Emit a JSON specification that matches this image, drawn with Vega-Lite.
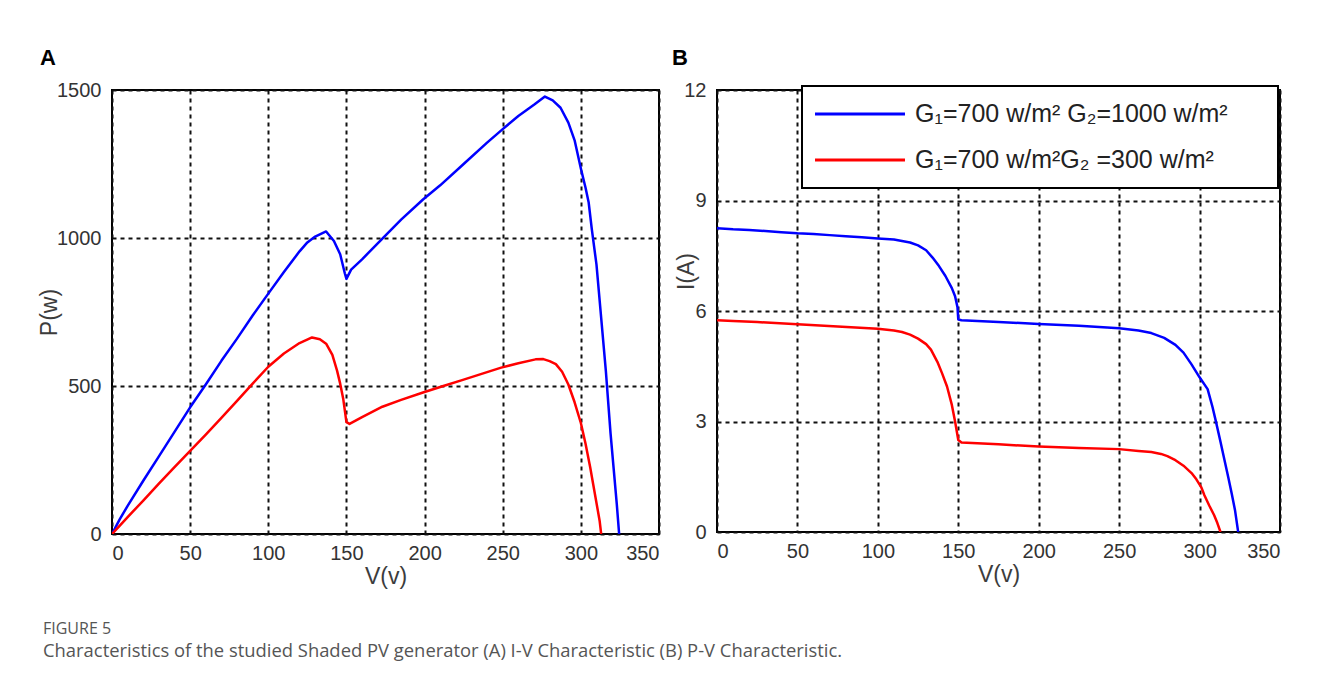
{
  "$schema": "https://vega.github.io/schema/vega-lite/v6.json",
  "background": "white",
  "padding": {"left": 37, "top": 46, "right": 20, "bottom": 5},
  "datasets": {
    "pv": [
      {"V": 0, "P": 0, "s": "G₁=700 w/m² G₂=1000 w/m²"},
      {"V": 5, "P": 50, "s": "G₁=700 w/m² G₂=1000 w/m²"},
      {"V": 10, "P": 95, "s": "G₁=700 w/m² G₂=1000 w/m²"},
      {"V": 20, "P": 180, "s": "G₁=700 w/m² G₂=1000 w/m²"},
      {"V": 30, "P": 262, "s": "G₁=700 w/m² G₂=1000 w/m²"},
      {"V": 40, "P": 345, "s": "G₁=700 w/m² G₂=1000 w/m²"},
      {"V": 50, "P": 428, "s": "G₁=700 w/m² G₂=1000 w/m²"},
      {"V": 60, "P": 505, "s": "G₁=700 w/m² G₂=1000 w/m²"},
      {"V": 70, "P": 585, "s": "G₁=700 w/m² G₂=1000 w/m²"},
      {"V": 80, "P": 660, "s": "G₁=700 w/m² G₂=1000 w/m²"},
      {"V": 90, "P": 738, "s": "G₁=700 w/m² G₂=1000 w/m²"},
      {"V": 100, "P": 812, "s": "G₁=700 w/m² G₂=1000 w/m²"},
      {"V": 110, "P": 885, "s": "G₁=700 w/m² G₂=1000 w/m²"},
      {"V": 120, "P": 955, "s": "G₁=700 w/m² G₂=1000 w/m²"},
      {"V": 125, "P": 985, "s": "G₁=700 w/m² G₂=1000 w/m²"},
      {"V": 130, "P": 1005, "s": "G₁=700 w/m² G₂=1000 w/m²"},
      {"V": 137, "P": 1022, "s": "G₁=700 w/m² G₂=1000 w/m²"},
      {"V": 142, "P": 990, "s": "G₁=700 w/m² G₂=1000 w/m²"},
      {"V": 146, "P": 945, "s": "G₁=700 w/m² G₂=1000 w/m²"},
      {"V": 149, "P": 880, "s": "G₁=700 w/m² G₂=1000 w/m²"},
      {"V": 150, "P": 862, "s": "G₁=700 w/m² G₂=1000 w/m²"},
      {"V": 153, "P": 893, "s": "G₁=700 w/m² G₂=1000 w/m²"},
      {"V": 160, "P": 928, "s": "G₁=700 w/m² G₂=1000 w/m²"},
      {"V": 173, "P": 998, "s": "G₁=700 w/m² G₂=1000 w/m²"},
      {"V": 185, "P": 1062, "s": "G₁=700 w/m² G₂=1000 w/m²"},
      {"V": 199, "P": 1130, "s": "G₁=700 w/m² G₂=1000 w/m²"},
      {"V": 210, "P": 1178, "s": "G₁=700 w/m² G₂=1000 w/m²"},
      {"V": 225, "P": 1250, "s": "G₁=700 w/m² G₂=1000 w/m²"},
      {"V": 240, "P": 1322, "s": "G₁=700 w/m² G₂=1000 w/m²"},
      {"V": 250, "P": 1368, "s": "G₁=700 w/m² G₂=1000 w/m²"},
      {"V": 260, "P": 1412, "s": "G₁=700 w/m² G₂=1000 w/m²"},
      {"V": 270, "P": 1450, "s": "G₁=700 w/m² G₂=1000 w/m²"},
      {"V": 277, "P": 1478, "s": "G₁=700 w/m² G₂=1000 w/m²"},
      {"V": 282, "P": 1465, "s": "G₁=700 w/m² G₂=1000 w/m²"},
      {"V": 287, "P": 1440, "s": "G₁=700 w/m² G₂=1000 w/m²"},
      {"V": 292, "P": 1390, "s": "G₁=700 w/m² G₂=1000 w/m²"},
      {"V": 296, "P": 1330, "s": "G₁=700 w/m² G₂=1000 w/m²"},
      {"V": 300, "P": 1235, "s": "G₁=700 w/m² G₂=1000 w/m²"},
      {"V": 303, "P": 1170, "s": "G₁=700 w/m² G₂=1000 w/m²"},
      {"V": 305, "P": 1120, "s": "G₁=700 w/m² G₂=1000 w/m²"},
      {"V": 307, "P": 1030, "s": "G₁=700 w/m² G₂=1000 w/m²"},
      {"V": 310, "P": 910, "s": "G₁=700 w/m² G₂=1000 w/m²"},
      {"V": 313, "P": 730, "s": "G₁=700 w/m² G₂=1000 w/m²"},
      {"V": 316, "P": 550, "s": "G₁=700 w/m² G₂=1000 w/m²"},
      {"V": 319, "P": 340, "s": "G₁=700 w/m² G₂=1000 w/m²"},
      {"V": 321, "P": 220, "s": "G₁=700 w/m² G₂=1000 w/m²"},
      {"V": 323, "P": 100, "s": "G₁=700 w/m² G₂=1000 w/m²"},
      {"V": 324.5, "P": 0, "s": "G₁=700 w/m² G₂=1000 w/m²"},
      {"V": 0, "P": 0, "s": "G₁=700 w/m²G₂ =300 w/m²"},
      {"V": 5, "P": 28, "s": "G₁=700 w/m²G₂ =300 w/m²"},
      {"V": 10, "P": 57, "s": "G₁=700 w/m²G₂ =300 w/m²"},
      {"V": 20, "P": 113, "s": "G₁=700 w/m²G₂ =300 w/m²"},
      {"V": 30, "P": 170, "s": "G₁=700 w/m²G₂ =300 w/m²"},
      {"V": 40, "P": 226, "s": "G₁=700 w/m²G₂ =300 w/m²"},
      {"V": 50, "P": 281, "s": "G₁=700 w/m²G₂ =300 w/m²"},
      {"V": 60, "P": 336, "s": "G₁=700 w/m²G₂ =300 w/m²"},
      {"V": 70, "P": 392, "s": "G₁=700 w/m²G₂ =300 w/m²"},
      {"V": 80, "P": 450, "s": "G₁=700 w/m²G₂ =300 w/m²"},
      {"V": 90, "P": 508, "s": "G₁=700 w/m²G₂ =300 w/m²"},
      {"V": 100, "P": 565, "s": "G₁=700 w/m²G₂ =300 w/m²"},
      {"V": 110, "P": 610, "s": "G₁=700 w/m²G₂ =300 w/m²"},
      {"V": 120, "P": 645, "s": "G₁=700 w/m²G₂ =300 w/m²"},
      {"V": 128, "P": 664, "s": "G₁=700 w/m²G₂ =300 w/m²"},
      {"V": 133, "P": 658, "s": "G₁=700 w/m²G₂ =300 w/m²"},
      {"V": 137, "P": 643, "s": "G₁=700 w/m²G₂ =300 w/m²"},
      {"V": 141, "P": 605, "s": "G₁=700 w/m²G₂ =300 w/m²"},
      {"V": 144, "P": 552, "s": "G₁=700 w/m²G₂ =300 w/m²"},
      {"V": 146, "P": 508, "s": "G₁=700 w/m²G₂ =300 w/m²"},
      {"V": 148, "P": 455, "s": "G₁=700 w/m²G₂ =300 w/m²"},
      {"V": 150, "P": 378, "s": "G₁=700 w/m²G₂ =300 w/m²"},
      {"V": 152, "P": 372, "s": "G₁=700 w/m²G₂ =300 w/m²"},
      {"V": 160, "P": 395, "s": "G₁=700 w/m²G₂ =300 w/m²"},
      {"V": 173, "P": 430, "s": "G₁=700 w/m²G₂ =300 w/m²"},
      {"V": 185, "P": 453, "s": "G₁=700 w/m²G₂ =300 w/m²"},
      {"V": 199, "P": 478, "s": "G₁=700 w/m²G₂ =300 w/m²"},
      {"V": 212, "P": 500, "s": "G₁=700 w/m²G₂ =300 w/m²"},
      {"V": 224, "P": 520, "s": "G₁=700 w/m²G₂ =300 w/m²"},
      {"V": 237, "P": 542, "s": "G₁=700 w/m²G₂ =300 w/m²"},
      {"V": 249, "P": 562, "s": "G₁=700 w/m²G₂ =300 w/m²"},
      {"V": 260, "P": 577, "s": "G₁=700 w/m²G₂ =300 w/m²"},
      {"V": 271, "P": 590, "s": "G₁=700 w/m²G₂ =300 w/m²"},
      {"V": 276, "P": 591, "s": "G₁=700 w/m²G₂ =300 w/m²"},
      {"V": 280, "P": 584, "s": "G₁=700 w/m²G₂ =300 w/m²"},
      {"V": 284, "P": 574, "s": "G₁=700 w/m²G₂ =300 w/m²"},
      {"V": 288, "P": 548, "s": "G₁=700 w/m²G₂ =300 w/m²"},
      {"V": 292, "P": 505, "s": "G₁=700 w/m²G₂ =300 w/m²"},
      {"V": 296, "P": 445, "s": "G₁=700 w/m²G₂ =300 w/m²"},
      {"V": 300, "P": 375, "s": "G₁=700 w/m²G₂ =300 w/m²"},
      {"V": 303, "P": 305, "s": "G₁=700 w/m²G₂ =300 w/m²"},
      {"V": 306, "P": 225, "s": "G₁=700 w/m²G₂ =300 w/m²"},
      {"V": 308, "P": 165, "s": "G₁=700 w/m²G₂ =300 w/m²"},
      {"V": 310, "P": 105, "s": "G₁=700 w/m²G₂ =300 w/m²"},
      {"V": 312, "P": 45, "s": "G₁=700 w/m²G₂ =300 w/m²"},
      {"V": 313, "P": 0, "s": "G₁=700 w/m²G₂ =300 w/m²"}
    ],
    "iv": [
      {"V": 0, "I": 8.25, "s": "G₁=700 w/m² G₂=1000 w/m²"},
      {"V": 10, "I": 8.22, "s": "G₁=700 w/m² G₂=1000 w/m²"},
      {"V": 20, "I": 8.2, "s": "G₁=700 w/m² G₂=1000 w/m²"},
      {"V": 30, "I": 8.17, "s": "G₁=700 w/m² G₂=1000 w/m²"},
      {"V": 40, "I": 8.14, "s": "G₁=700 w/m² G₂=1000 w/m²"},
      {"V": 50, "I": 8.11, "s": "G₁=700 w/m² G₂=1000 w/m²"},
      {"V": 60, "I": 8.09, "s": "G₁=700 w/m² G₂=1000 w/m²"},
      {"V": 70, "I": 8.06, "s": "G₁=700 w/m² G₂=1000 w/m²"},
      {"V": 80, "I": 8.03, "s": "G₁=700 w/m² G₂=1000 w/m²"},
      {"V": 90, "I": 8.0, "s": "G₁=700 w/m² G₂=1000 w/m²"},
      {"V": 100, "I": 7.97, "s": "G₁=700 w/m² G₂=1000 w/m²"},
      {"V": 110, "I": 7.94, "s": "G₁=700 w/m² G₂=1000 w/m²"},
      {"V": 115, "I": 7.9, "s": "G₁=700 w/m² G₂=1000 w/m²"},
      {"V": 120, "I": 7.86, "s": "G₁=700 w/m² G₂=1000 w/m²"},
      {"V": 125, "I": 7.78, "s": "G₁=700 w/m² G₂=1000 w/m²"},
      {"V": 130, "I": 7.65, "s": "G₁=700 w/m² G₂=1000 w/m²"},
      {"V": 134, "I": 7.45, "s": "G₁=700 w/m² G₂=1000 w/m²"},
      {"V": 138, "I": 7.22, "s": "G₁=700 w/m² G₂=1000 w/m²"},
      {"V": 142, "I": 6.95, "s": "G₁=700 w/m² G₂=1000 w/m²"},
      {"V": 146, "I": 6.62, "s": "G₁=700 w/m² G₂=1000 w/m²"},
      {"V": 148, "I": 6.4, "s": "G₁=700 w/m² G₂=1000 w/m²"},
      {"V": 149.5, "I": 6.1, "s": "G₁=700 w/m² G₂=1000 w/m²"},
      {"V": 150, "I": 5.77, "s": "G₁=700 w/m² G₂=1000 w/m²"},
      {"V": 152, "I": 5.75, "s": "G₁=700 w/m² G₂=1000 w/m²"},
      {"V": 175, "I": 5.7, "s": "G₁=700 w/m² G₂=1000 w/m²"},
      {"V": 200, "I": 5.65, "s": "G₁=700 w/m² G₂=1000 w/m²"},
      {"V": 225, "I": 5.6, "s": "G₁=700 w/m² G₂=1000 w/m²"},
      {"V": 250, "I": 5.53, "s": "G₁=700 w/m² G₂=1000 w/m²"},
      {"V": 262, "I": 5.47, "s": "G₁=700 w/m² G₂=1000 w/m²"},
      {"V": 270, "I": 5.4, "s": "G₁=700 w/m² G₂=1000 w/m²"},
      {"V": 278, "I": 5.27, "s": "G₁=700 w/m² G₂=1000 w/m²"},
      {"V": 285, "I": 5.08, "s": "G₁=700 w/m² G₂=1000 w/m²"},
      {"V": 290, "I": 4.87, "s": "G₁=700 w/m² G₂=1000 w/m²"},
      {"V": 295, "I": 4.55, "s": "G₁=700 w/m² G₂=1000 w/m²"},
      {"V": 300, "I": 4.2, "s": "G₁=700 w/m² G₂=1000 w/m²"},
      {"V": 305, "I": 3.88, "s": "G₁=700 w/m² G₂=1000 w/m²"},
      {"V": 308, "I": 3.4, "s": "G₁=700 w/m² G₂=1000 w/m²"},
      {"V": 310, "I": 3.03, "s": "G₁=700 w/m² G₂=1000 w/m²"},
      {"V": 313, "I": 2.45, "s": "G₁=700 w/m² G₂=1000 w/m²"},
      {"V": 315, "I": 2.05, "s": "G₁=700 w/m² G₂=1000 w/m²"},
      {"V": 318, "I": 1.45, "s": "G₁=700 w/m² G₂=1000 w/m²"},
      {"V": 320, "I": 1.04, "s": "G₁=700 w/m² G₂=1000 w/m²"},
      {"V": 322, "I": 0.6, "s": "G₁=700 w/m² G₂=1000 w/m²"},
      {"V": 324, "I": 0, "s": "G₁=700 w/m² G₂=1000 w/m²"},
      {"V": 0, "I": 5.75, "s": "G₁=700 w/m²G₂ =300 w/m²"},
      {"V": 10, "I": 5.73, "s": "G₁=700 w/m²G₂ =300 w/m²"},
      {"V": 25, "I": 5.7, "s": "G₁=700 w/m²G₂ =300 w/m²"},
      {"V": 50, "I": 5.64, "s": "G₁=700 w/m²G₂ =300 w/m²"},
      {"V": 75, "I": 5.58, "s": "G₁=700 w/m²G₂ =300 w/m²"},
      {"V": 100, "I": 5.52, "s": "G₁=700 w/m²G₂ =300 w/m²"},
      {"V": 110, "I": 5.47, "s": "G₁=700 w/m²G₂ =300 w/m²"},
      {"V": 115, "I": 5.43, "s": "G₁=700 w/m²G₂ =300 w/m²"},
      {"V": 120, "I": 5.36, "s": "G₁=700 w/m²G₂ =300 w/m²"},
      {"V": 125, "I": 5.25, "s": "G₁=700 w/m²G₂ =300 w/m²"},
      {"V": 130, "I": 5.1, "s": "G₁=700 w/m²G₂ =300 w/m²"},
      {"V": 133, "I": 4.95, "s": "G₁=700 w/m²G₂ =300 w/m²"},
      {"V": 137, "I": 4.62, "s": "G₁=700 w/m²G₂ =300 w/m²"},
      {"V": 140, "I": 4.3, "s": "G₁=700 w/m²G₂ =300 w/m²"},
      {"V": 143, "I": 3.95, "s": "G₁=700 w/m²G₂ =300 w/m²"},
      {"V": 146, "I": 3.45, "s": "G₁=700 w/m²G₂ =300 w/m²"},
      {"V": 148, "I": 3.0, "s": "G₁=700 w/m²G₂ =300 w/m²"},
      {"V": 150, "I": 2.5, "s": "G₁=700 w/m²G₂ =300 w/m²"},
      {"V": 152, "I": 2.43, "s": "G₁=700 w/m²G₂ =300 w/m²"},
      {"V": 175, "I": 2.38, "s": "G₁=700 w/m²G₂ =300 w/m²"},
      {"V": 200, "I": 2.32, "s": "G₁=700 w/m²G₂ =300 w/m²"},
      {"V": 225, "I": 2.28, "s": "G₁=700 w/m²G₂ =300 w/m²"},
      {"V": 250, "I": 2.25, "s": "G₁=700 w/m²G₂ =300 w/m²"},
      {"V": 262, "I": 2.2, "s": "G₁=700 w/m²G₂ =300 w/m²"},
      {"V": 270, "I": 2.17, "s": "G₁=700 w/m²G₂ =300 w/m²"},
      {"V": 276, "I": 2.12, "s": "G₁=700 w/m²G₂ =300 w/m²"},
      {"V": 280, "I": 2.06, "s": "G₁=700 w/m²G₂ =300 w/m²"},
      {"V": 285, "I": 1.95, "s": "G₁=700 w/m²G₂ =300 w/m²"},
      {"V": 290, "I": 1.8, "s": "G₁=700 w/m²G₂ =300 w/m²"},
      {"V": 295, "I": 1.6, "s": "G₁=700 w/m²G₂ =300 w/m²"},
      {"V": 298, "I": 1.43, "s": "G₁=700 w/m²G₂ =300 w/m²"},
      {"V": 301, "I": 1.22, "s": "G₁=700 w/m²G₂ =300 w/m²"},
      {"V": 303, "I": 1.0, "s": "G₁=700 w/m²G₂ =300 w/m²"},
      {"V": 306, "I": 0.72, "s": "G₁=700 w/m²G₂ =300 w/m²"},
      {"V": 309, "I": 0.46, "s": "G₁=700 w/m²G₂ =300 w/m²"},
      {"V": 311, "I": 0.25, "s": "G₁=700 w/m²G₂ =300 w/m²"},
      {"V": 313, "I": 0, "s": "G₁=700 w/m²G₂ =300 w/m²"}
    ]
  },
  "title": {
    "text": "FIGURE 5",
    "subtitle": "Characteristics of the studied Shaded PV generator (A) I-V Characteristic (B) P-V Characteristic.",
    "orient": "bottom",
    "anchor": "start",
    "frame": "bounds",
    "offset": 32,
    "dx": 6,
    "font": "Open Sans",
    "fontSize": 16,
    "fontWeight": "normal",
    "color": "#555555",
    "subtitleFont": "Open Sans",
    "subtitleFontSize": 18.4,
    "subtitleColor": "#555555",
    "subtitlePadding": 5
  },
  "bounds": "flush",
  "spacing": 58,
  "resolve": {"scale": {"color": "independent"}},
  "hconcat": [
    {
      "width": 547,
      "height": 444,
      "title": {"text": "A", "anchor": "start", "frame": "bounds", "dx": 2, "font": "Liberation Sans", "fontSize": 22, "fontWeight": "bold", "color": "black", "offset": 10},
      "data": {"name": "pv"},
      "mark": {"type": "line", "strokeWidth": 2.5, "strokeJoin": "round", "clip": true},
      "encoding": {
        "x": {"field": "V", "type": "quantitative", "scale": {"domain": [0, 350], "nice": false}, "axis": {"values": [0, 50, 100, 150, 200, 250, 300, 350], "title": "V(v)"}},
        "y": {"field": "P", "type": "quantitative", "scale": {"domain": [0, 1500], "nice": false}, "axis": {"values": [0, 500, 1000, 1500], "format": "d", "title": "P(w)", "titleX": -51}},
        "color": {"field": "s", "type": "nominal", "scale": {"domain": ["G₁=700 w/m² G₂=1000 w/m²", "G₁=700 w/m²G₂ =300 w/m²"], "range": ["#0000ff", "#ff0000"]}, "legend": null}
      }
    },
    {
      "width": 563,
      "height": 442,
      "title": {"text": "B", "anchor": "start", "frame": "bounds", "dx": -3, "font": "Liberation Sans", "fontSize": 22, "fontWeight": "bold", "color": "black", "offset": 10},
      "data": {"name": "iv"},
      "mark": {"type": "line", "strokeWidth": 2.5, "strokeJoin": "round", "clip": true},
      "encoding": {
        "x": {"field": "V", "type": "quantitative", "scale": {"domain": [0, 350], "nice": false}, "axis": {"values": [0, 50, 100, 150, 200, 250, 300, 350], "title": "V(v)"}},
        "y": {"field": "I", "type": "quantitative", "scale": {"domain": [0, 12], "nice": false}, "axis": {"values": [0, 3, 6, 9, 12], "title": "I(A)", "titleX": -19, "titleY": 181}},
        "color": {
          "field": "s", "type": "nominal",
          "scale": {"domain": ["G₁=700 w/m² G₂=1000 w/m²", "G₁=700 w/m²G₂ =300 w/m²"], "range": ["#0000ff", "#ff0000"]},
          "legend": {
            "orient": "none", "legendX": 85, "legendY": -4,
            "title": "\u00a0", "titleOrient": "right", "titlePadding": 35, "titleFontSize": 10,
            "fillColor": "white", "strokeColor": "black", "padding": 15,
            "symbolType": "M-4,0H4", "symbolSize": 506, "symbolStrokeWidth": 3, "symbolOffset": 30,
            "labelOffset": 42, "labelFont": "Liberation Sans", "labelFontSize": 25, "labelColor": "#222222", "labelLimit": 600,
            "rowPadding": 20,
            "encode": {"legend": {"update": {"strokeWidth": {"value": 2}}}}
          }
        }
      }
    }
  ],
  "config": {
    "view": {"stroke": "black", "strokeWidth": 2},
    "axis": {
      "domain": false, "ticks": false, "tickSize": 0,
      "grid": true, "gridColor": "#111111", "gridDash": [4, 4], "gridWidth": 2, "gridOpacity": 1,
      "labelFont": "Liberation Sans", "labelFontSize": 20, "labelColor": "#333333",
      "titleFont": "Liberation Sans", "titleFontSize": 23, "titleFontWeight": "normal", "titleColor": "#3c3c3c"
    },
    "axisX": {"labelPadding": 9, "titlePadding": 2},
    "axisY": {"labelPadding": 11}
  }
}
